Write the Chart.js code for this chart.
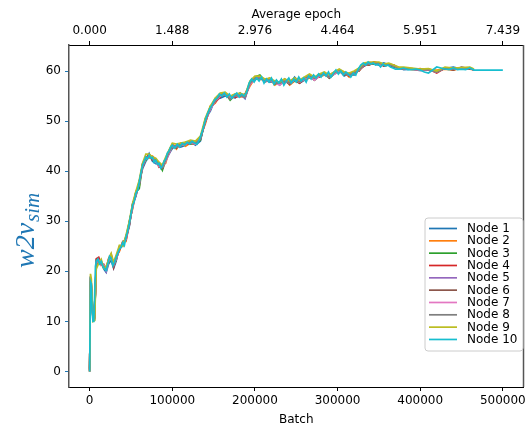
<!DOCTYPE html>
<html>
<head>
<meta charset="utf-8">
<script src="https://cdn.jsdelivr.net/npm/chart.js@4.4.1/dist/chart.umd.min.js"></script>
<style>
html,body{margin:0;padding:0;background:#fff;}
#wrap{position:relative;width:529px;height:427px;}
canvas{display:block;}
</style>
</head>
<body>
<div id="wrap"><canvas id="c" width="529" height="427"></canvas></div>
<script>
// ---- data (batch positions in thousands of batches) ----
const batchesK = [0,1,2,4,6,8,
  11,14,17,20,23,26,29,32,
  36,40,44,48,52,56,60,64,68,72,76,80,84,88,92,96,100,
  105,110,
  116,122,128,134,140,146,152,158,164,170,176,182,188,194,200,206,212,218,224,230,236,242,248,254,260,266,272,278,284,290,296,302,308,314,320,326,332,338,344,350,356,362,368,374,380,
  390,400,410,420,430,440,450,460,
  465];

const node10BatchesK = [0,1,2,3,4,5,6,7,8,
  10,12,14,16,18,20,22,24,26,28,30,32,34,36,38,40,42,44,46,48,50,52,54,56,58,60,62,64,66,68,70,72,74,76,78,80,82,84,86,88,90,92,94,96,98,100,
  103,106,109,112,115,118,121,124,127,130,133,136,139,142,145,148,151,154,157,160,163,166,169,172,175,178,181,184,187,190,
  193,196,199,202,205,208,211,214,217,220,223,226,229,232,235,238,241,244,247,250,253,256,259,262,265,268,271,274,277,280,283,286,289,292,295,298,301,304,307,310,313,316,319,322,325,328,331,334,337,340,343,346,349,352,355,358,361,364,367,
  370,375,380,385,390,395,400,405,410,415,420,425,430,435,440,445,450,455,460,465,470,
  500];

const seriesNames = ["Node 1","Node 2","Node 3","Node 4","Node 5","Node 6","Node 7","Node 8","Node 9","Node 10"];

const node1 = [0.5,17.5,16,11,11.5,21.5, 21.5,22,20.5,19.8,21.5,22.2,20.6,22, 25,25,27,29,33.5,35,38,40.5,42,43.5,42,41.5,41.5,40.5,42.5,43.5,44.5, 45.2,44.8, 45.2,46,45.2,46,50.5,52,54.5,54.6,55,55,54.6,55.6,54.5,57.8,58.2,59,58.2,57.8,58,57.2,58.4,57.4,58.8,57.6,58.2,59.2,58.6,59.4,59.2,59,59.4,60.2,59,59.5,59.2,60.4,61,61.6,61.4,61.2,61.6,61.2,60.8,60.7,60.3, 60.4,60.4,60.2,60,60.5,60.8,60.4,60.5, 60.4];
const node2 = [0.2,18.5,17.5,11.5,12,21, 22.5,21.2,21.4,20.6,22.4,22.6,21.4,23, 24,26,26,30,32.5,36,37,41.5,42.8,42.6,43,42.4,41.2,41.2,41.6,44,45.4, 44.4,45.6, 45,45.6,45.8,46.8,49.5,53,53.6,55.4,55.2,54.8,55.4,54.8,55.2,57,58.6,58.4,58.2,58.6,57.2,57.8,58.4,57.2,58,58.2,58.2,58.6,58.8,58.8,59.2,59.2,59.8,60.2,59.8,58.8,59.8,60,61.4,61.2,61.8,61.4,61.2,61.2,61.2,60.4,60.6, 60.3,60.5,60.2,60.2,60.4,60.2,60.6,60.4, 60.3];
const node3 = [0,18.2,16.5,12,11,21.8, 21.8,21.8,20.8,20.5,21.8,22.8,21.2,22.2, 24.8,25.2,26.8,29.8,32.8,35.8,36.5,41.2,42.2,43.2,42.8,41.8,41.5,40.2,42.2,43.6,44.8, 45,45, 45.8,45.4,45.6,46.2,50.2,52.8,54.2,55.2,55.6,54.2,55.2,55.4,55,57.6,58.8,59.2,58,58.4,57.4,57.6,58.2,57.8,58,57.6,58.6,59.2,58.2,59.2,59.6,58.6,59.4,60.2,59.2,59.4,59.4,60.4,61.2,61.6,61.4,61.6,61.4,61.2,60.8,60.6,60.4, 60.4,60.3,60.4,59.9,60.5,60.5,60.4,60.7, 60.3];
const node4 = [0.3,17.8,17.2,10.8,11,22.5, 22.8,21.6,21.2,20.4,22.6,23.4,20.8,22.6, 24.2,25.8,26.2,29.2,33.2,35.2,37.8,40.8,42.6,43.4,42.2,42.2,40.8,41,42.4,43.6,45.2, 45,45.4, 45.4,45.6,45.4,46.6,49.8,52.6,53.8,54.8,55.4,54.8,54.8,55,55.4,57.4,58.4,58.6,58.4,58,57.8,57.4,57.8,57.8,58.4,57.6,58.4,58.8,58.6,58.8,59.6,59,59.6,59.8,59.6,59,59.4,60.2,61,61.4,61.8,61.6,61,61.4,61.2,60.6,60.4, 60.5,60.2,60.4,59.6,60.6,60.3,60.6,60.5, 60.2];
const node5 = [0,18,17.6,11,10.8,21.6, 22.2,21.4,21.4,20,22.2,23,21.6,22.4, 24.6,25.4,26.4,29.6,33,35.6,37.4,41,42.6,42.8,42.6,42,41.2,40.6,42,43.4,45, 45,45, 45.6,45.6,45.8,46.4,50,52.4,54,55.2,55.4,54.6,55,55.4,54.6,57.4,58.6,58.6,58.2,58.2,57.6,57.4,58.2,57.4,58.2,57.8,58.4,59,58.6,59,59.4,58.8,59.4,60,59.4,59.2,59.6,60.2,61.2,61.4,61.6,61.4,61.2,61.4,61,60.6,60.5, 60.4,60.1,60.3,59.8,60.6,60.4,60.5,60.6, 60.2];
const node6 = [0,17.6,16.8,10.6,10.6,22.2, 22,21.6,20.8,20.4,22,23.2,21,22.8, 24.4,25.6,26.6,29.4,33.4,35.4,37.6,41.4,42.4,43,42.4,42.2,41,40.6,42.2,44,45.2, 44.6,45.4, 45.6,45.8,45.6,46.4,50.2,52.6,54.2,55,55.6,54.4,55.2,55,54.8,57.6,58.4,58.8,57.8,58.2,57.8,57.6,58,57.4,58.4,57.8,58.4,59,58.2,59,59.6,58.6,59.6,60,59.2,59.4,59.8,60,61.4,61.2,61.6,61.6,61,61.2,61,60.6,60.6, 60.4,60.2,60.2,59.8,60.6,60.2,60.8,60.4, 60.3];
const node7 = [0,18.4,17,10.5,10.5,21.8, 22.2,21.2,21.2,20.2,22,22.6,21.2,22.4, 24.6,25.6,26.4,29.6,32.8,35.4,37.6,41,42.4,43,42.6,41.8,41,40.8,42,43.6,45, 44.8,45.2, 45.4,45.8,45.4,46.6,50,52.4,54,55,55.4,54.6,55,55.2,54.8,57.4,58.4,58.8,58,58.2,57.6,57.2,58,57.6,58.2,57.8,58.4,59,58.2,59,59.4,58.8,59.4,60,59.4,59.2,59.6,60.2,61.2,61.4,61.6,61.4,61.2,61.4,61,60.6,60.5, 60.4,60.2,60.3,59.8,60.6,60.4,60.5,60.6, 60.2];
const node8 = [0.6,18,17,10.6,10.8,22.2, 22,21.4,21,20.4,22.2,23,21.2,22.6, 24.4,25.4,26.6,29.4,33.2,35.6,37.4,41,42.6,43.2,42.4,42,41.2,40.8,42.2,43.8,45, 44.8,45.2, 45.6,45.8,45.6,46.4,50,52.6,54,55.2,55.4,54.4,55,55.2,54.8,57.6,58.6,58.6,58,58.4,57.6,57.6,58,57.6,58.4,57.8,58.6,59,58.6,59.2,59.4,58.8,59.6,60.2,59.4,59.2,59.6,60.2,61.2,61.4,61.6,61.6,61.2,61.4,61,60.6,60.5, 60.4,60.3,60.3,59.8,60.6,60.4,60.7,60.6, 60.2];
const node9 = [0,19.5,18.5,10,10.2,20.5, 21.6,22.4,20.6,21,22.4,23.6,21.8,23.2, 25.2,25,27.2,30,33.6,36,38.2,41.6,43.4,43.4,42.8,42.6,41.8,41.2,42.8,44.2,45.6, 45.4,45.6, 45.8,46.2,46,47,50.6,53,54.6,55.6,55.8,55,55.4,55.6,55.2,58,59,59,58.4,58.6,58,57.8,58.4,58,58.6,58.2,58.8,59.4,58.8,59.4,59.8,59.2,59.8,60.4,59.8,59.6,60,60.6,61.6,61.8,61.8,61.8,61.4,61.6,61.2,60.8,60.8, 60.6,60.4,60.5,60,60.8,60.6,60.7,60.8, 60.4];
const node10 = [0,18,17.5,12,10,10,15,21,22,
  22.5,21.5,22,21,20.5,20.2,21.5,23,22.6,21.2,21.8,22.8,23.6,24.4,24.8,25.8,25.2,26.8,28,29.6,31.5,33.2,34,35.6,36.2,37.8,39.6,41.2,42,42.8,42.4,43.2,42.6,42.8,41.8,42.2,41.4,41.6,40.6,41,42,42.4,43.6,44,44.8,45.2,
  44.6,45.4,44.8,45.6,45.2,45.8,45.4,46,45.6,45.4,46.4,47.8,49.6,51.2,52.4,53.2,54.2,54.6,55.4,55,55.6,54.8,55.4,54.6,55.2,55.6,54.8,55.4,55,55.8,
  57.6,58.4,57.8,58.6,58,58.8,57.6,58.4,57.8,58.6,57.4,58.2,57.6,58.4,57.2,58,58.6,57.6,58.4,57.8,58.8,58,58.6,57.8,59,58.4,59.2,58.6,59.4,58.8,59.6,59,59.8,58.8,59.6,60.2,59.4,60,59.2,59.8,59.4,58.8,59.6,59.2,60.4,61.2,61.6,61.2,61.8,61.4,61.6,61.2,61.4,60.8,61.4,61,61.2,60.8,60.6,
  60.4,60.4,60.6,60.3,60.3,60.4,60.2,59.8,59.6,60.2,60.8,60.6,60.4,60.3,60.6,60.3,60.4,60.3,60.6,60.2,60.2,
  60.2];

const batchTicks = [0,100000,200000,300000,400000,500000];
const epochTickLabels = ["0.000","1.488","2.976","4.464","5.951","7.439"];
const yTicks = [0,10,20,30,40,50,60];

// ---- chart ----
const nodeValues = [node1,node2,node3,node4,node5,node6,node7,node8,node9,node10];
const nodeBatches = [batchesK,batchesK,batchesK,batchesK,batchesK,batchesK,batchesK,batchesK,batchesK,node10BatchesK];
const colors = ['#1f77b4','#ff7f0e','#2ca02c','#d62728','#9467bd','#8c564b','#e377c2','#7f7f7f','#bcbd22','#17becf'];
const FONT = "'DejaVu Sans', sans-serif";
Chart.defaults.font.family = FONT;
Chart.defaults.font.size = 12;
Chart.defaults.color = '#000';

const datasets = nodeValues.map((vals, i) => ({
  label: seriesNames[i],
  data: vals.map((v, j) => ({x: nodeBatches[i][j] * 1000, y: v})),
  borderColor: colors[i],
  backgroundColor: colors[i],
  borderWidth: 1.7,
  pointRadius: 0,
  tension: 0,
  fill: false,
  order: nodeValues.length - 1 - i
}));

const decor = {
  id: 'decor',
  afterDraw(chart) {
    const ctx = chart.ctx;
    const a = chart.chartArea;
    ctx.save();
    ctx.strokeStyle = '#555';
    ctx.lineWidth = 1.5;
    ctx.beginPath();
    ctx.moveTo(a.right, a.top);
    ctx.lineTo(a.right, a.bottom);
    ctx.stroke();
    // y label w2v_sim
    ctx.fillStyle = '#1f77b4';
    ctx.translate(34, 268);
    ctx.rotate(-Math.PI / 2);
    ctx.textBaseline = 'alphabetic';
    ctx.textAlign = 'left';
    ctx.font = "italic 28px 'Liberation Serif', serif";
    ctx.fillText('w2v', 0, 0);
    const w = ctx.measureText('w2v').width;
    ctx.font = "italic 21px 'Liberation Serif', serif";
    ctx.fillText('sim', w + 1, 5);
    ctx.restore();

    // legend
    ctx.save();
    const bx = 425, by = 218, bw = 98, bh = 133, r = 3;
    ctx.beginPath();
    ctx.moveTo(bx + r, by);
    ctx.lineTo(bx + bw - r, by);
    ctx.arcTo(bx + bw, by, bx + bw, by + r, r);
    ctx.lineTo(bx + bw, by + bh - r);
    ctx.arcTo(bx + bw, by + bh, bx + bw - r, by + bh, r);
    ctx.lineTo(bx + r, by + bh);
    ctx.arcTo(bx, by + bh, bx, by + bh - r, r);
    ctx.lineTo(bx, by + r);
    ctx.arcTo(bx, by, bx + r, by, r);
    ctx.closePath();
    ctx.fillStyle = 'rgba(255,255,255,0.8)';
    ctx.fill();
    ctx.strokeStyle = '#cccccc';
    ctx.lineWidth = 1;
    ctx.stroke();
    ctx.font = "12px " + FONT;
    ctx.textBaseline = 'middle';
    ctx.textAlign = 'left';
    chart.data.datasets.forEach((ds, i) => {
      const y = 228.5 + i * 12.33;
      ctx.strokeStyle = ds.borderColor;
      ctx.lineWidth = 1.7;
      ctx.beginPath();
      ctx.moveTo(429, y);
      ctx.lineTo(457, y);
      ctx.stroke();
      ctx.fillStyle = '#000';
      ctx.fillText(ds.label, 467, y + 0.5);
    });
    ctx.restore();
  }
};

new Chart(document.getElementById('c'), {
  type: 'line',
  data: { datasets },
  options: {
    responsive: false,
    animation: false,
    devicePixelRatio: 1,
    parsing: false,
    layout: { padding: { left: 0, right: 3, top: 0, bottom: 0 } },
    plugins: { legend: { display: false }, tooltip: { enabled: false } },
    scales: {
      x: {
        type: 'linear', position: 'bottom',
        min: -25000, max: 525000,
        afterFit: s => { s.height = 40; },
        afterBuildTicks: s => { s.ticks = batchTicks.map(v => ({ value: v })); },
        ticks: { color: '#000', padding: 3, maxRotation: 0, autoSkip: false, callback: v => String(v) },
        grid: { drawOnChartArea: false, drawTicks: true, tickLength: 4, tickColor: '#000', tickWidth: 1 },
        border: { display: true, color: '#000', width: 1 },
        title: { display: true, text: 'Batch', color: '#000', font: { size: 12 }, padding: { top: 0, bottom: 0 } }
      },
      x2: {
        type: 'linear', position: 'top',
        min: -25000, max: 525000,
        afterFit: s => { s.height = 45; },
        afterBuildTicks: s => { s.ticks = batchTicks.map(v => ({ value: v })); },
        ticks: { color: '#000', padding: 3, maxRotation: 0, autoSkip: false,
                 callback: (v, i) => epochTickLabels[i] },
        grid: { drawOnChartArea: false, drawTicks: true, tickLength: 4, tickColor: '#000', tickWidth: 1 },
        border: { display: true, color: '#000', width: 1 },
        title: { display: true, text: 'Average epoch', color: '#000', font: { size: 12 }, padding: { top: 8, bottom: 0 } }
      },
      y: {
        type: 'linear', position: 'left',
        min: -3.1, max: 65.2,
        afterFit: s => { s.width = 69; },
        afterBuildTicks: s => { s.ticks = yTicks.map(v => ({ value: v })); },
        ticks: { color: '#000', padding: 4, callback: v => String(v) },
        grid: { drawOnChartArea: false, drawTicks: true, tickLength: 4, tickColor: '#1f77b4', tickWidth: 1 },
        border: { display: true, color: '#555', width: 1.5 }
      }
    }
  },
  plugins: [decor]
});
</script>
</body>
</html>
